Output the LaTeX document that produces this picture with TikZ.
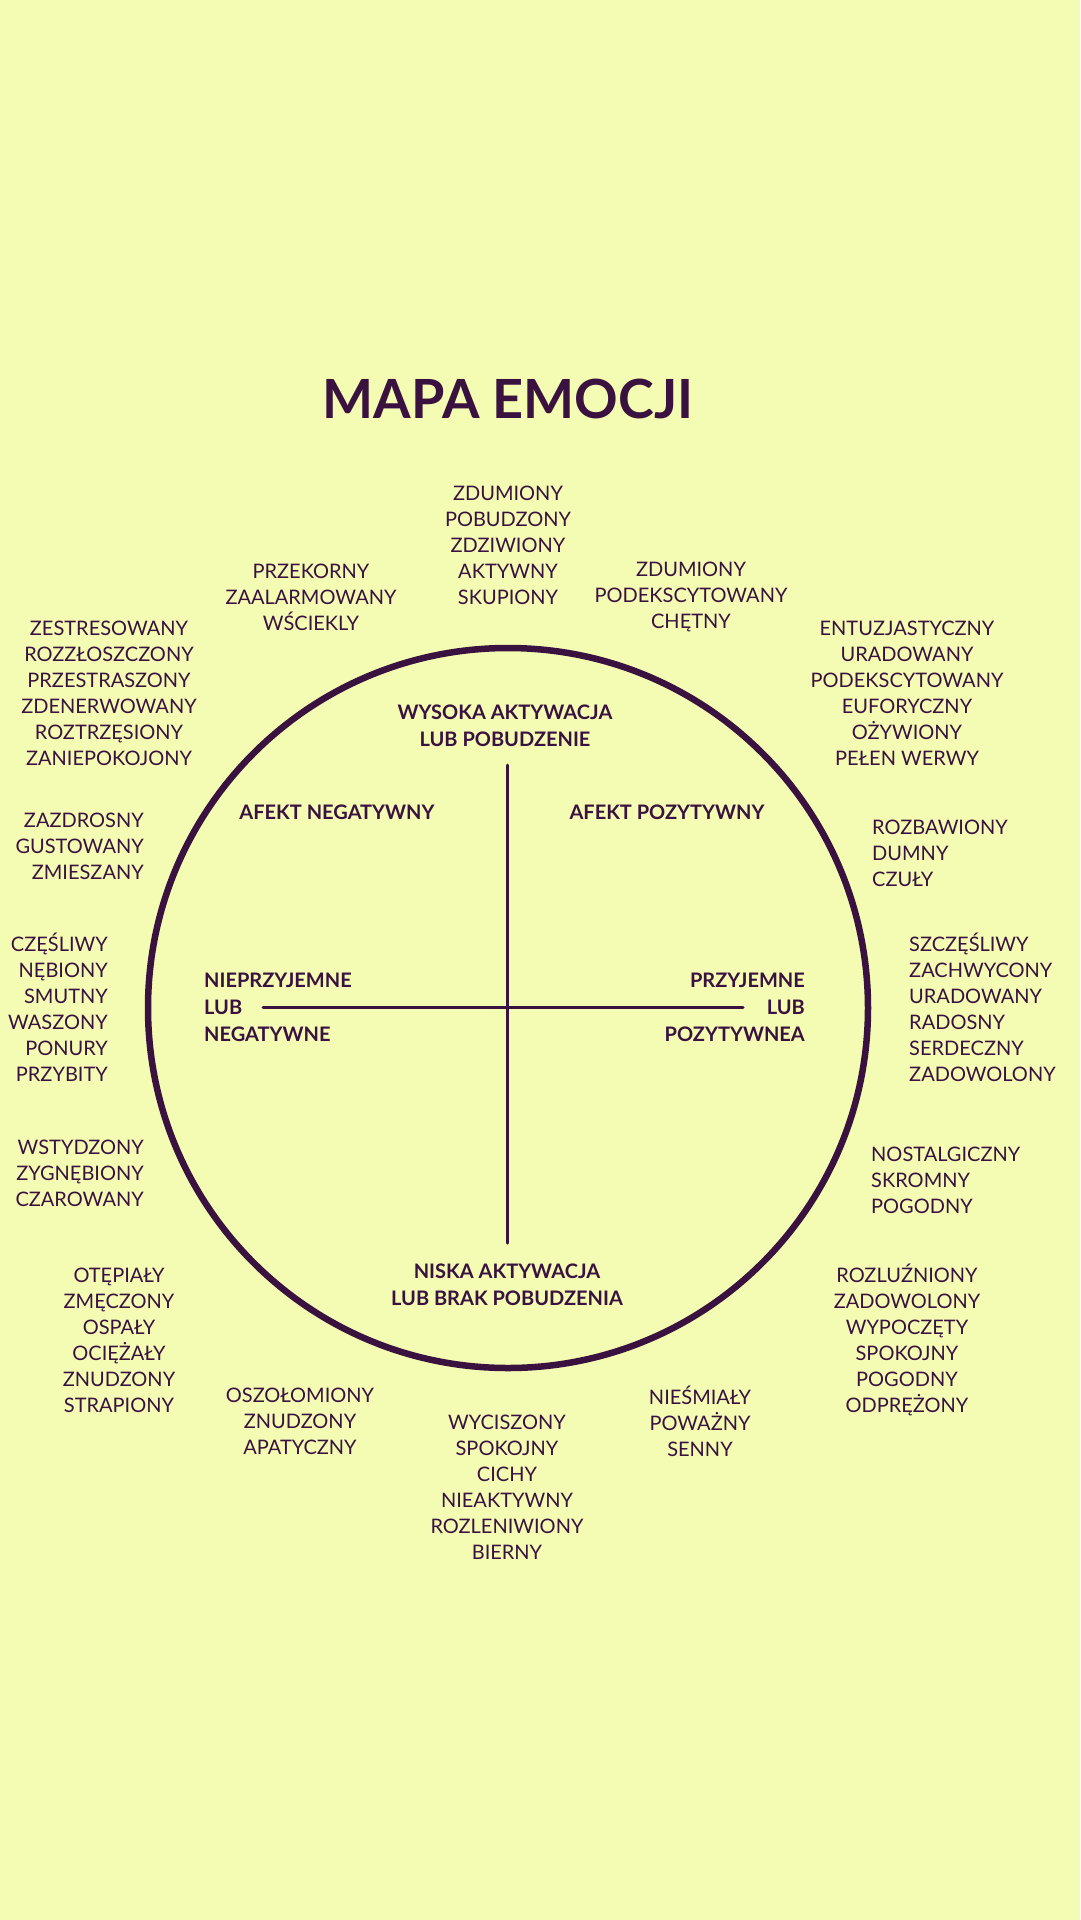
\documentclass[tikz,border=0pt]{standalone}
\usepackage{fontspec}
\setmainfont{Lato}
\definecolor{tlo}{HTML}{F4FCB4}
\definecolor{fiolet}{HTML}{3A1240}

\begin{document}
\begin{tikzpicture}[
  % style: listy emocji, opisy osi i linie
  x=1pt, y=-1pt,
  lista/.style={align=center, inner sep=0pt, text=fiolet, font=\fontsize{20}{26}\selectfont},
  listal/.style={lista, align=left, anchor=west},  % do lewej krawędzi
  listap/.style={lista, align=right, anchor=east}, % do prawej krawędzi
  opis/.style={align=center, inner sep=0pt, text=fiolet, font=\bfseries\fontsize{20}{27}\selectfont},
  os/.style={draw=fiolet, line width=3pt},
  line join=round, line cap=round]

  % tło i wymiary strony
  \fill[tlo] (0,0) rectangle (1080,1920);
  \useasboundingbox (0,0) rectangle (1080,1920);

  % punkty koła i osi
  \coordinate (S) at (508,1008); % środek koła
  \coordinate (G) at (507,765);  % góra osi
  \coordinate (D) at (507,1243); % dół osi
  \coordinate (L) at (263,1007); % lewy koniec
  \coordinate (P) at (743,1007); % prawy koniec

  % koło i osie
  \draw[fiolet, line width=6.5pt] (S) circle[radius=360];
  \draw[os] (G) -- (D);
  \draw[os] (L) -- (P);

  % tytuł
  \node[inner sep=0pt, text=fiolet, font=\bfseries\fontsize{54}{60}\selectfont] (tytul) at (508,399) {MAPA EMOCJI};

  % opisy wewnątrz koła
  \node[opis] (wysoka) at (505,726) {WYSOKA AKTYWACJA\\LUB POBUDZENIE};
  \node[opis] (niska) at (507,1285) {NISKA AKTYWACJA\\LUB BRAK POBUDZENIA};
  \node[opis] (afneg) at (337,812) {AFEKT NEGATYWNY};
  \node[opis] (afpoz) at (667,812) {AFEKT POZYTYWNY};
  \node[opis, align=left, anchor=west] (nieprz) at (204,1007) {NIEPRZYJEMNE\\LUB\\NEGATYWNE};
  \node[opis, align=right, anchor=east] (przyj) at (805,1007) {PRZYJEMNE\\LUB\\POZYTYWNEA};

  % emocje u góry
  \node[lista] (gora) at (508,545) {ZDUMIONY\\POBUDZONY\\ZDZIWIONY\\AKTYWNY\\SKUPIONY};
  \node[lista] (goralewa) at (311,597) {PRZEKORNY\\ZAALARMOWANY\\WŚCIEKLY};
  \node[lista] (goraprawa) at (691,597) {ZDUMIONY\\PODEKSCYTOWANY\\CHĘTNY};

  % emocje po lewej
  \node[lista] (stres) at (109,693) {ZESTRESOWANY\\ROZZŁOSZCZONY\\PRZESTRASZONY\\ZDENERWOWANY\\ROZTRZĘSIONY\\ZANIEPOKOJONY};
  \node[listap] (zazdr) at (144,846) {ZAZDROSNY\\GUSTOWANY\\ZMIESZANY};
  \node[listap] (smut) at (108,1007) {CZĘŚLIWY\\NĘBIONY\\SMUTNY\\WASZONY\\PONURY\\PRZYBITY};
  \node[listap] (wstyd) at (144,1173) {WSTYDZONY\\ZYGNĘBIONY\\CZAROWANY};
  \node[lista] (zmecz) at (119,1340) {OTĘPIAŁY\\ZMĘCZONY\\OSPAŁY\\OCIĘŻAŁY\\ZNUDZONY\\STRAPIONY};

  % emocje po prawej
  \node[lista] (entuz) at (907,693) {ENTUZJASTYCZNY\\URADOWANY\\PODEKSCYTOWANY\\EUFORYCZNY\\OŻYWIONY\\PEŁEN WERWY};
  \node[listal] (rozb) at (872,853) {ROZBAWIONY\\DUMNY\\CZUŁY};
  \node[listal] (szcz) at (909,1007) {SZCZĘŚLIWY\\ZACHWYCONY\\URADOWANY\\RADOSNY\\SERDECZNY\\ZADOWOLONY};
  \node[listal] (nost) at (871,1180) {NOSTALGICZNY\\SKROMNY\\POGODNY};
  \node[lista] (rozl) at (907,1340) {ROZLUŹNIONY\\ZADOWOLONY\\WYPOCZĘTY\\SPOKOJNY\\POGODNY\\ODPRĘŻONY};

  % emocje na dole
  \node[lista] (oszol) at (300,1421) {OSZOŁOMIONY\\ZNUDZONY\\APATYCZNY};
  \node[lista] (wycisz) at (507,1487) {WYCISZONY\\SPOKOJNY\\CICHY\\NIEAKTYWNY\\ROZLENIWIONY\\BIERNY};
  \node[lista] (niesm) at (700,1421) {NIEŚMIAŁY\\POWAŻNY\\SENNY};

\end{tikzpicture}
\end{document}
